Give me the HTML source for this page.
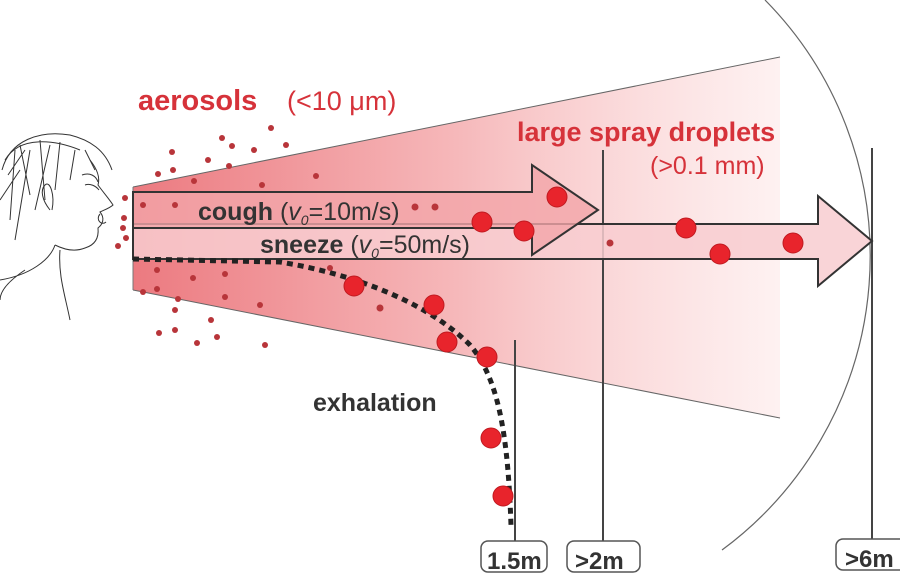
<!DOCTYPE html>
<html><head><meta charset="utf-8"><style>
html,body{margin:0;padding:0;background:#fff;}
svg{display:block;font-family:"Liberation Sans",Arial,sans-serif;}
</style></head><body>
<svg width="900" height="575" viewBox="0 0 900 575" xmlns="http://www.w3.org/2000/svg">
<defs>
<linearGradient id="cone" x1="133" y1="0" x2="780" y2="0" gradientUnits="userSpaceOnUse">
<stop offset="0" stop-color="#ec7a80"/>
<stop offset="0.5" stop-color="#f6b8ba"/>
<stop offset="1" stop-color="#fde8e8" stop-opacity="0.6"/>
</linearGradient>
</defs>
<path d="M133,187 L780,57 L780,418 L133,290 Z" fill="url(#cone)"/>
<line x1="133" y1="187" x2="780" y2="57" stroke="#666" stroke-width="1"/>
<line x1="133" y1="290" x2="780" y2="418" stroke="#666" stroke-width="1"/>
<line x1="133" y1="187" x2="133" y2="290" stroke="#777" stroke-width="1"/>
<path d="M765,0 A 365 365 0 0 1 722,550" fill="none" stroke="#666" stroke-width="1.2"/>
<line x1="515" y1="340" x2="515" y2="541" stroke="#444" stroke-width="2"/>
<line x1="603" y1="150" x2="603" y2="541" stroke="#444" stroke-width="2"/>
<line x1="872" y1="148" x2="872" y2="541" stroke="#444" stroke-width="2"/>
<path d="M133,224 L818,224 L818,196 L872,241 L818,286 L818,259 L133,259 Z" fill="#f8cdd0" fill-opacity="0.85" stroke="#333" stroke-width="2"/>
<path d="M133,192 L532,192 L532,165 L598,210 L532,255 L532,228 L133,228 Z" fill="#f3a5a9" fill-opacity="0.8" stroke="#333" stroke-width="2"/>
<line x1="133" y1="228" x2="532" y2="228" stroke="#333" stroke-width="2"/>
<path d="M133,259 L280,262 C360,275 430,305 470,345 C500,380 508,440 511,525" fill="none" stroke="#222" stroke-width="5" stroke-dasharray="6 5"/>
<g fill="#b8353a">
<circle cx="271" cy="128" r="3"/><circle cx="222" cy="138" r="3"/><circle cx="254" cy="150" r="3"/><circle cx="286" cy="145" r="3"/>
<circle cx="172" cy="152" r="3"/><circle cx="208" cy="160" r="3"/><circle cx="173" cy="170" r="3"/><circle cx="229" cy="166" r="3"/>
<circle cx="158" cy="174" r="3"/><circle cx="194" cy="181" r="3"/><circle cx="262" cy="185" r="3"/><circle cx="316" cy="176" r="3"/>
<circle cx="143" cy="205" r="3"/><circle cx="175" cy="205" r="3"/><circle cx="415" cy="207" r="3.5"/><circle cx="435" cy="207" r="3.5"/>
<circle cx="125" cy="198" r="3"/><circle cx="124" cy="218" r="3"/><circle cx="126" cy="238" r="3"/><circle cx="118" cy="246" r="3"/><circle cx="123" cy="228" r="3"/>
<circle cx="157" cy="270" r="3"/><circle cx="193" cy="278" r="3"/><circle cx="157" cy="289" r="3"/><circle cx="225" cy="274" r="3"/>
<circle cx="143" cy="292" r="3"/><circle cx="178" cy="299" r="3"/><circle cx="225" cy="297" r="3"/><circle cx="260" cy="305" r="3"/>
<circle cx="175" cy="310" r="3"/><circle cx="211" cy="320" r="3"/><circle cx="175" cy="330" r="3"/><circle cx="159" cy="333" r="3"/>
<circle cx="197" cy="343" r="3"/><circle cx="217" cy="337" r="3"/><circle cx="265" cy="345" r="3"/><circle cx="330" cy="268" r="3"/>
<circle cx="380" cy="308" r="3.5"/><circle cx="610" cy="243" r="3.5"/><circle cx="232" cy="146" r="3"/>
</g>
<g fill="#e8242c" stroke="#c01a20" stroke-width="1">
<circle cx="557" cy="197" r="10"/><circle cx="482" cy="222" r="10"/><circle cx="524" cy="231" r="10"/>
<circle cx="686" cy="228" r="10"/><circle cx="720" cy="254" r="10"/><circle cx="793" cy="243" r="10"/>
<circle cx="354" cy="286" r="10"/><circle cx="434" cy="305" r="10"/><circle cx="447" cy="342" r="10"/>
<circle cx="487" cy="357" r="10"/><circle cx="491" cy="438" r="10"/><circle cx="503" cy="496" r="10"/>
</g>
<text x="138" y="110" font-size="29" font-weight="bold" fill="#d6323a">aerosols</text>
<text x="287" y="110" font-size="27" fill="#d6323a">(&lt;10 μm)</text>
<text x="517" y="141" font-size="27" font-weight="bold" fill="#d6323a">large spray droplets</text>
<text x="650" y="174" font-size="25" fill="#d6323a">(&gt;0.1 mm)</text>
<text x="198" y="220" font-size="25" fill="#333"><tspan font-weight="bold">cough</tspan> (<tspan font-style="italic">v</tspan><tspan font-style="italic" font-size="14" dy="5">0</tspan><tspan dy="-5">=10m/s)</tspan></text>
<text x="260" y="253" font-size="25" fill="#333"><tspan font-weight="bold">sneeze</tspan> (<tspan font-style="italic">v</tspan><tspan font-style="italic" font-size="14" dy="5">0</tspan><tspan dy="-5">=50m/s)</tspan></text>
<text x="313" y="411" font-size="25" font-weight="bold" fill="#333">exhalation</text>
<g fill="#fff" stroke="#555" stroke-width="1.5">
<rect x="481" y="541" width="66" height="31" rx="7"/>
<rect x="567" y="541" width="73" height="31" rx="7"/>
<rect x="836" y="539" width="72" height="31" rx="7"/>
</g>
<g font-size="24" font-weight="bold" fill="#333">
<text x="487" y="569">1.5m</text>
<text x="575" y="569">&gt;2m</text>
<text x="845" y="567">&gt;6m</text>
</g>
<g fill="none" stroke="#333" stroke-width="1">
<path d="M2,170 C10,140 40,130 70,135 C90,140 105,150 112,170"/>
<path d="M5,160 C20,135 55,140 80,150 M20,145 L30,195 M40,140 L45,200 M60,142 L55,190 M75,150 L70,180 M15,150 L10,220 M30,150 L15,240 M8,175 L25,150 M50,145 L35,210 M85,150 L95,170 M0,200 L20,170"/>
<path d="M90,160 C98,170 100,178 98,185 C103,192 110,200 113,205 C110,208 104,210 100,212 C105,218 103,224 98,228 C99,238 95,245 85,248 C75,252 65,250 55,245"/>
<path d="M82,175 C90,172 96,176 98,182 M85,185 C90,183 96,186 99,190"/>
<path d="M50,210 C42,200 40,190 45,185 C50,180 55,195 52,210"/>
<path d="M55,245 C50,260 30,275 0,280 M60,250 C58,275 65,295 70,320 M25,270 C10,280 0,290 0,300"/>
<path d="M100,214 C95,220 102,226 106,222"/>
</g>
</svg>
</body></html>
